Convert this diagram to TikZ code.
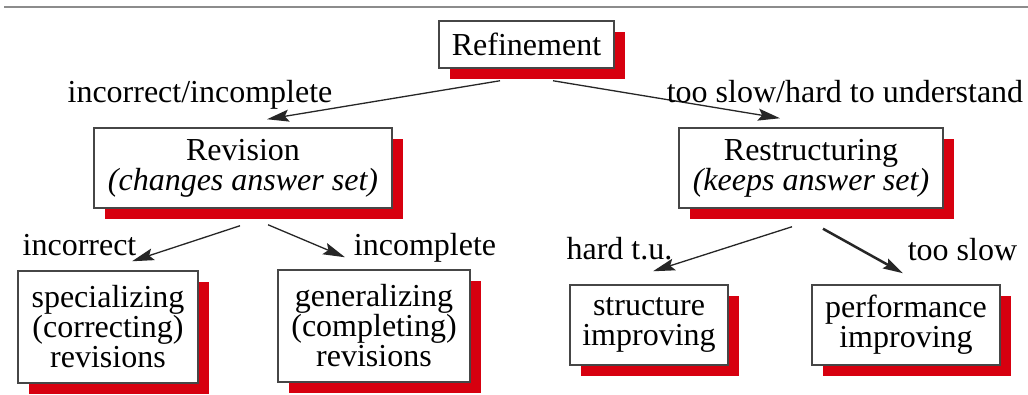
\documentclass[tikz,border=0pt]{standalone}
\usepackage{fontspec}
\setmainfont{Liberation Serif}
\usetikzlibrary{arrows.meta,shadows}
\definecolor{shadowred}{RGB}{215,0,15}
\definecolor{boxedge}{RGB}{70,70,70}
\definecolor{ruleline}{RGB}{140,140,140}
\tikzset{
  card/.style={draw=boxedge, line width=1.5pt, fill=white, inner sep=0pt,
    align=center, font=\fontsize{32}{30}\selectfont,
    general shadow={fill=shadowred, draw=none, shadow xshift=11pt, shadow yshift=-11pt}},
  arr/.style={draw=black!85, line width=1.3pt,
    -{Stealth[length=22pt,width=12pt,inset=4pt]}},
  boldarr/.style={draw=black!85, line width=2.5pt,
    -{Stealth[length=20pt,width=11pt,inset=3pt]}},
  lbl/.style={anchor=base, inner sep=0pt, font=\fontsize{32}{30}\selectfont}
}
\begin{document}
\begin{tikzpicture}[x=1pt,y=1pt]
\useasboundingbox (0,0) rectangle (1028,394);
\fill[white] (0,0) rectangle (1028,394);

% rule across the top
\coordinate (ruleL) at (4,387);
\coordinate (ruleR) at (1028,387);
\draw[ruleline, line width=1.5pt] (ruleL) -- (ruleR);

% boxes
\node[card, minimum width=175pt, minimum height=47pt] (ref) at (526.5,349.5) {Refinement};
\node[card, minimum width=298pt, minimum height=80pt] (rev) at (243,226)
  {Revision\\\textit{(changes answer set)}};
\node[card, minimum width=264pt, minimum height=80pt] (res) at (811,226)
  {Restructuring\\\textit{(keeps answer set)}};
\node[card, minimum width=180pt, minimum height=112pt] (spec) at (108,67)
  {specializing\\(correcting)\\revisions};
\node[card, minimum width=192pt, minimum height=112pt] (gen) at (374,68)
  {generalizing\\(completing)\\revisions};
\node[card, minimum width=158pt, minimum height=80pt] (str) at (649,69)
  {structure\\improving};
\node[card, minimum width=188pt, minimum height=80pt] (perf) at (906,69)
  {performance\\improving};

% connectors
\draw[arr] ([xshift=-26.5pt,yshift=-12pt]ref.south) -- ([xshift=24pt,yshift=8pt]rev.north);
\draw[arr] ([xshift=26.5pt,yshift=-12pt]ref.south) -- ([xshift=-31pt,yshift=9pt]res.north);
\draw[arr] ([xshift=-3pt,yshift=-17pt]rev.south) -- ([xshift=24pt,yshift=9pt]spec.north);
\draw[arr] ([xshift=25pt,yshift=-16pt]rev.south) -- ([xshift=-29pt,yshift=12pt]gen.north);
\draw[arr] ([xshift=-19pt,yshift=-18pt]res.south) -- ([xshift=4pt,yshift=13pt]str.north);
\draw[boldarr] ([xshift=12pt,yshift=-20pt]res.south) -- ([xshift=-3pt,yshift=11pt]perf.north);

% edge labels
\node[lbl] (l1) at (200,291) {incorrect/incomplete};
\node[lbl] (l2) at (845,291) {too slow/hard to understand};
\node[lbl] (l3) at (79.5,139) {incorrect};
\node[lbl] (l4) at (425,139) {incomplete};
\node[lbl] (l5) at (619.5,135) {hard t.u.};
\node[lbl] (l6) at (962.5,133) {too slow};
\end{tikzpicture}
\end{document}
